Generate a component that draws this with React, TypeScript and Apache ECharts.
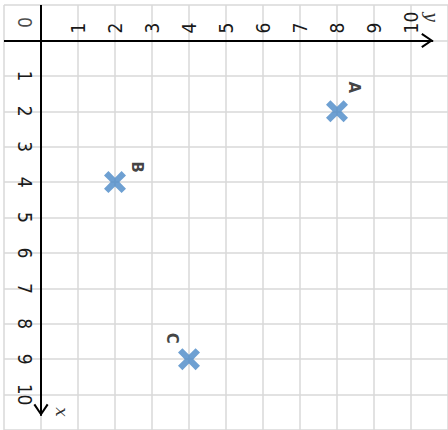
import React, { useEffect, useRef } from 'react';
import * as echarts from 'echarts';

// Data (x points down, y points right)
const pointNames = ['A', 'B', 'C'];
const pointX = [2, 4, 9];
const pointY = [8, 2, 4];
const tickValues = [0, 1, 2, 3, 4, 5, 6, 7, 8, 9, 10];
const originLabel = '0';
const axisNames = { horizontal: 'y', vertical: 'x' };

const axisMin = -1;
const axisMax = 11;
const arrowEnd = 10.6;

const labelOffsets: Record<string, number[]> = {
  A: [-24, -17],
  B: [-15, -22],
  C: [-21, 17],
};

const crossPath =
  'path://M4,0 L10,6 L16,0 L20,4 L14,10 L20,16 L16,20 L10,14 L4,20 L0,16 L6,10 L0,4 Z';
const arrowPath =
  'path://M0,11 L7,0 L14,11 L12.4,12.2 L7,3.4 L1.6,12.2 Z M7,-12 L7.02,-12 L7,-11.98 Z';

const FONT = '"Liberation Sans Narrow", "DejaVu Sans Condensed", sans-serif';
const LETTER_FONT = '"DejaVu Sans", sans-serif';
const GRID_COLOR = '#d9d9d9';

export default function App() {
  const ref = useRef<HTMLDivElement>(null);
  useEffect(() => {
    if (!ref.current) return;
    const chart = echarts.init(ref.current, undefined, { renderer: 'svg' });
    const labelFmt = (v: number) =>
      v >= tickValues[1] && v <= tickValues[tickValues.length - 1] ? String(v) : '';
    const axisLabel = {
      rotate: -90,
      margin: 7,
      formatter: labelFmt,
      fontSize: 19,
      color: '#1a1a1a',
      fontFamily: FONT,
    };
    chart.setOption({
      animation: false,
      backgroundColor: '#fff',
      grid: {
        left: 4,
        right: 0,
        top: 5,
        bottom: 0,
        containLabel: false,
        outerBoundsMode: 'none',
      },
      xAxis: {
        type: 'value',
        min: axisMin,
        max: axisMax,
        interval: 1,
        position: 'top',
        axisLine: { show: false, onZero: false },
        axisTick: { show: false },
        splitLine: { show: true, lineStyle: { color: GRID_COLOR, width: 1.5 } },
        axisLabel,
      },
      yAxis: {
        type: 'value',
        min: axisMin,
        max: axisMax,
        interval: 1,
        inverse: true,
        position: 'left',
        axisLine: { show: false, onZero: false },
        axisTick: { show: false },
        splitLine: { show: true, lineStyle: { color: GRID_COLOR, width: 1.5 } },
        axisLabel,
      },
      graphic: [
        {
          type: 'text',
          x: 432,
          y: 17,
          rotation: -Math.PI / 2,
          style: {
            text: axisNames.horizontal,
            fontSize: 17,
            fontStyle: 'italic',
            fontFamily: '"DejaVu Serif", serif',
            fill: '#333',
            align: 'center',
            verticalAlign: 'middle',
          },
        },
        {
          type: 'text',
          x: 62,
          y: 412,
          rotation: -Math.PI / 2,
          style: {
            text: axisNames.vertical,
            fontSize: 17,
            fontStyle: 'italic',
            fontFamily: '"DejaVu Serif", serif',
            fill: '#333',
            align: 'center',
            verticalAlign: 'middle',
          },
        },
      ],
      series: [
        {
          type: 'scatter',
          name: 'points',
          symbol: crossPath,
          symbolSize: 22,
          itemStyle: { color: '#4a88c7' },
          label: {
            show: true,
            position: 'inside',
            formatter: '{b}',
            rotate: -90,
            fontSize: 15,
            fontWeight: 'bold',
            color: '#111',
            fontFamily: LETTER_FONT,
          },
          data: pointNames.map((n, i) => ({
            name: n,
            value: [pointY[i], pointX[i]],
            label: { offset: labelOffsets[n] },
          })),
          markLine: {
            silent: true,
            animation: false,
            symbol: ['none', arrowPath],
            symbolSize: [15, 24],
            label: { show: false },
            lineStyle: { color: '#000', width: 2, type: 'solid' },
            emphasis: { disabled: true },
            data: [
              [{ coord: [axisMin, tickValues[0]] }, { coord: [arrowEnd, tickValues[0]] }],
              [{ coord: [tickValues[0], axisMin] }, { coord: [tickValues[0], arrowEnd] }],
            ],
          },
        },
        {
          type: 'scatter',
          name: 'origin',
          symbolSize: 0,
          silent: true,
          label: {
            show: true,
            position: 'inside',
            formatter: originLabel,
            rotate: -90,
            offset: [-18, 16.5],
            fontSize: 19,
            color: '#1a1a1a',
            fontFamily: FONT,
          },
          data: [[tickValues[0], tickValues[0]]],
        },
      ],
    });
    // Move the axes (labels) onto the zero lines, using the library's scales
    const origin = chart.convertToPixel({ gridIndex: 0 }, [tickValues[0], tickValues[0]]) as number[];
    const corner = chart.convertToPixel({ gridIndex: 0 }, [axisMin, axisMin]) as number[];
    chart.setOption({
      xAxis: { offset: -(origin[1] - corner[1]) },
      yAxis: { offset: -(origin[0] - corner[0]) },
    });
    return () => chart.dispose();
  }, []);
  return (
    <div
      ref={ref}
      style={{ position: 'absolute', left: 0, top: 0, width: 448, height: 430, background: '#fff' }}
    />
  );
}
